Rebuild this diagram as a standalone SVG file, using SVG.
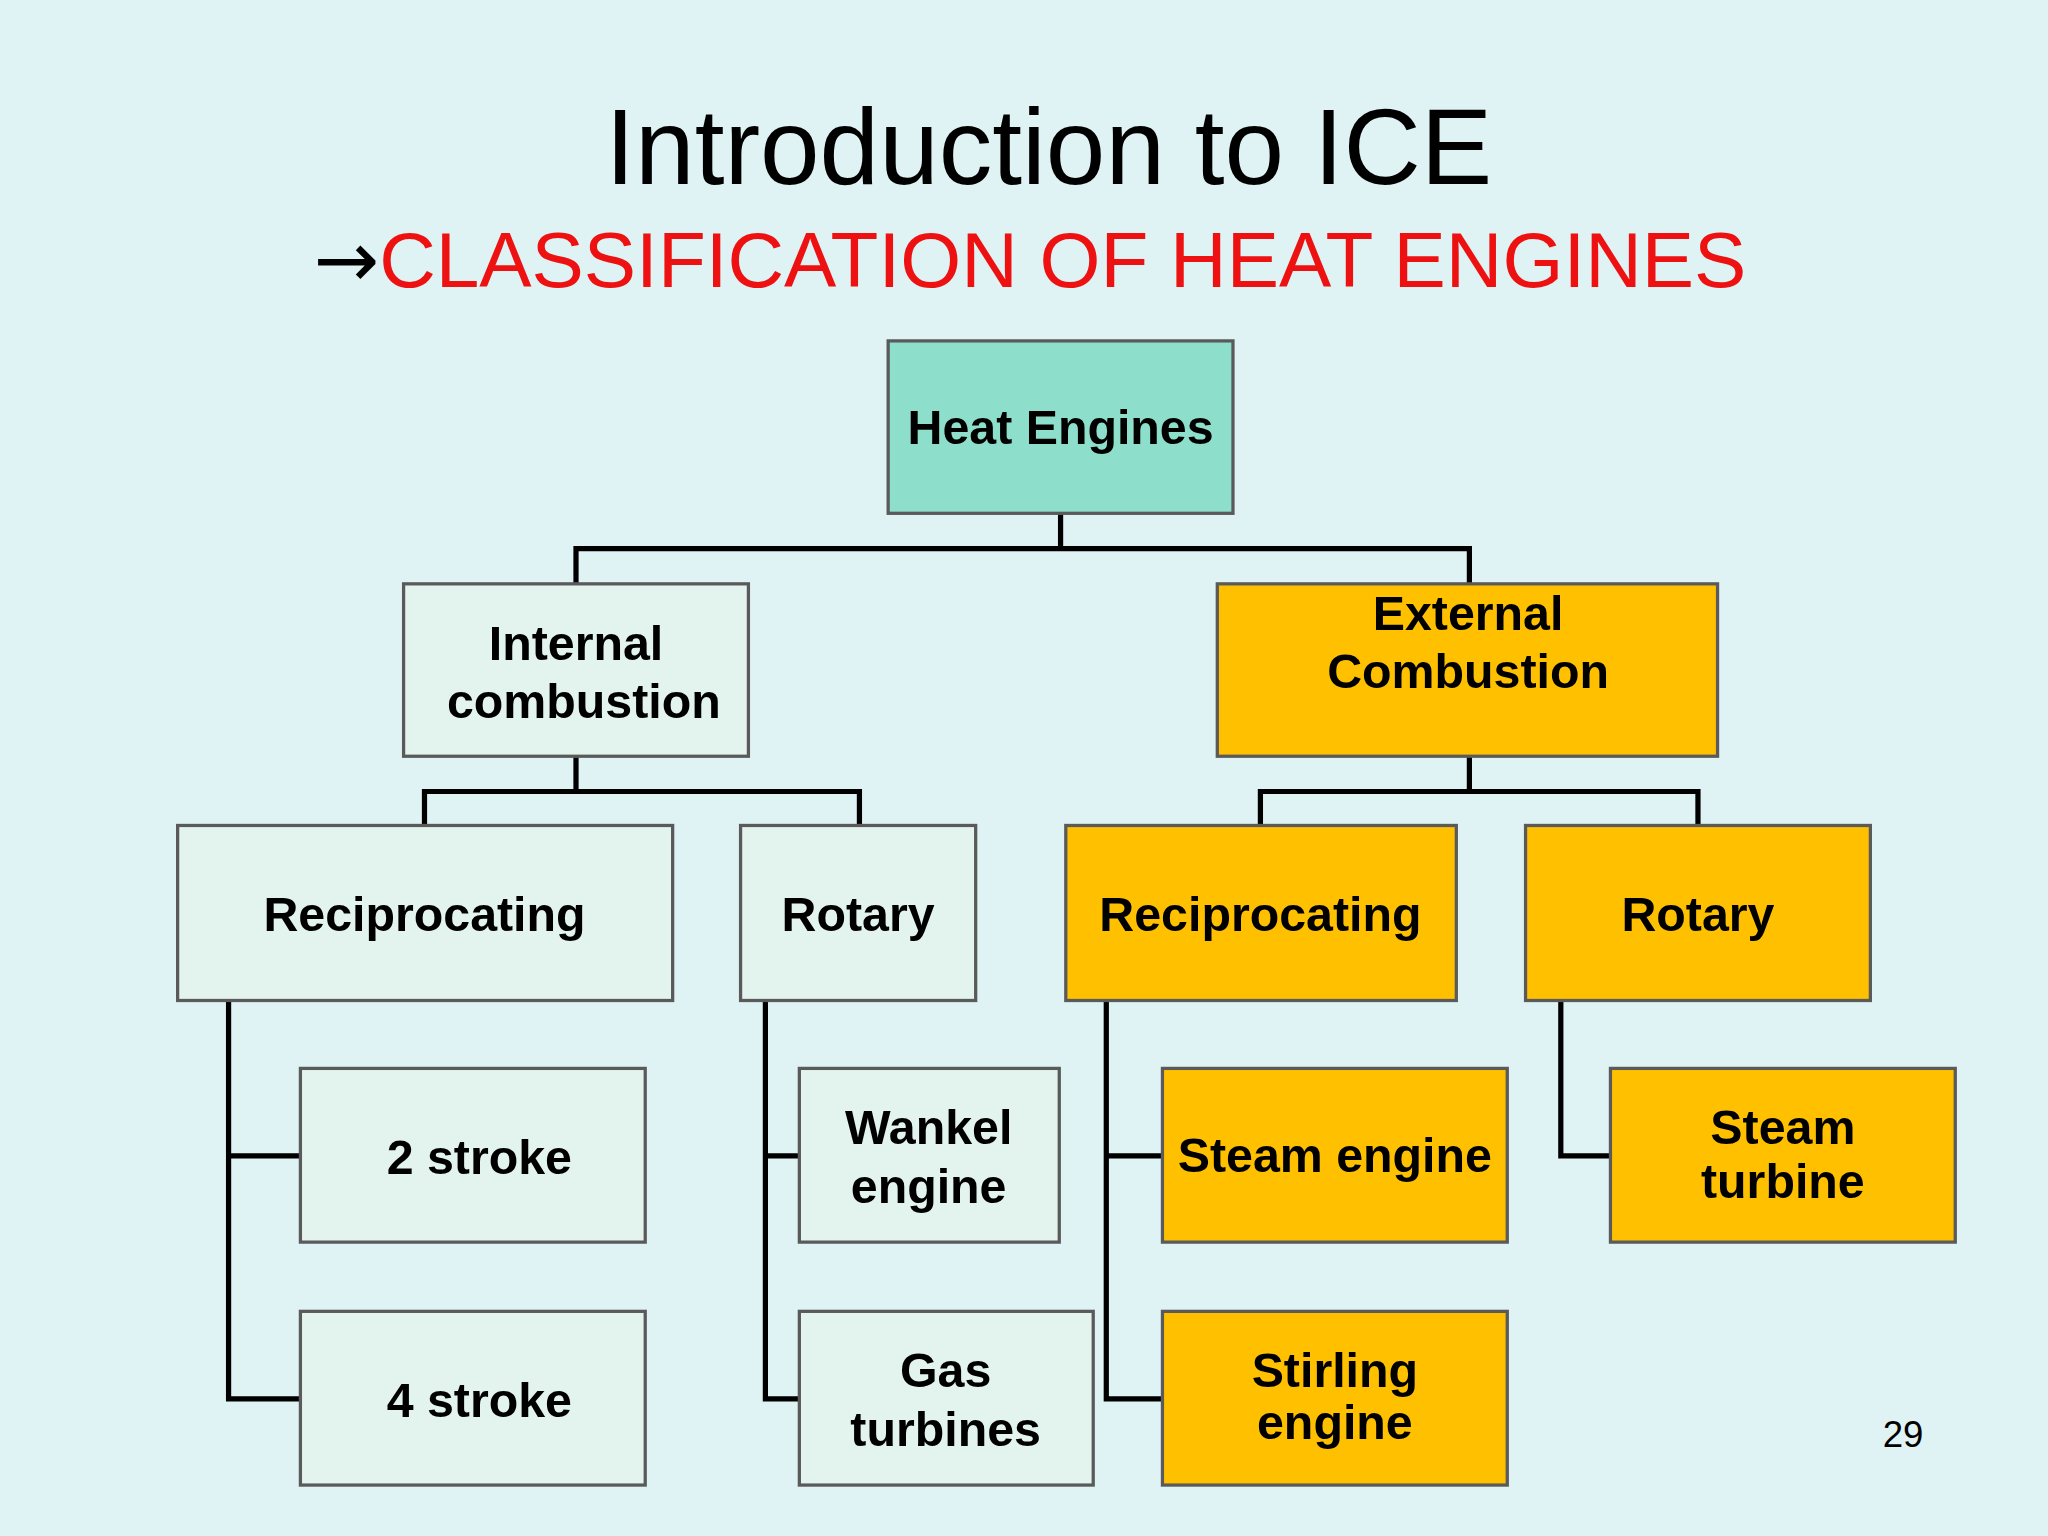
<svg xmlns="http://www.w3.org/2000/svg" width="2048" height="1536" viewBox="0 0 2048 1536">
<style>
.t{font-family:"Liberation Sans",Arial,sans-serif;font-weight:bold;font-size:37px;fill:#000;text-anchor:middle}
.l{fill:#e3f4ee;stroke:#5a5a5a;stroke-width:2.5}
.o{fill:#ffc000;stroke:#5a5a5a;stroke-width:2.5}
.h{fill:#8ddfcc;stroke:#5a5a5a;stroke-width:2.5}
.c{fill:none;stroke:#000;stroke-width:4}
</style>
<rect width="2048" height="1536" fill="#dff2f4"/>
<g transform="scale(1.306122)">
<text x="803" y="141" font-family="Liberation Sans,Arial,sans-serif" font-size="82" text-anchor="middle">Introduction to ICE</text>
<text x="240" y="220" font-family="DejaVu Sans,sans-serif" font-size="60">→<tspan font-family="Liberation Sans,Arial,sans-serif" fill="#ee1111">CLASSIFICATION OF HEAT ENGINES</tspan></text>
<g id="connectors">
<path class="c" d="M812 393V420M441 447V420H1125V447M441 579V606M325 632V606H658V632M1125 579V606M965 632V606H1300V632M175 766V1071H230M175 885H230M586 766V1071H612M586 885H612M847 766V1071H890M847 885H890M1195 766V885H1233"/>
</g>
<g id="heat"><rect class="h" x="680" y="261" width="264" height="132"/><text class="t" x="812" y="340">Heat Engines</text></g>
<g id="internal"><rect class="l" x="309" y="447" width="264" height="132"/><text class="t" x="441" y="505">Internal</text><text class="t" x="447" y="550">combustion</text></g>
<g id="external"><rect class="o" x="932" y="447" width="383" height="132"/><text class="t" x="1124" y="482">External</text><text class="t" x="1124" y="527">Combustion</text></g>
<g id="recip1"><rect class="l" x="136" y="632" width="379" height="134"/><text class="t" x="325" y="713">Reciprocating</text></g>
<g id="rotary1"><rect class="l" x="567" y="632" width="180" height="134"/><text class="t" x="657" y="713">Rotary</text></g>
<g id="recip2"><rect class="o" x="816" y="632" width="299" height="134"/><text class="t" x="965" y="713">Reciprocating</text></g>
<g id="rotary2"><rect class="o" x="1168" y="632" width="264" height="134"/><text class="t" x="1300" y="713">Rotary</text></g>
<g id="s2"><rect class="l" x="230" y="818" width="264" height="133"/><text class="t" x="367" y="899">2 stroke</text></g>
<g id="s4"><rect class="l" x="230" y="1004" width="264" height="133"/><text class="t" x="367" y="1085">4 stroke</text></g>
<g id="wankel"><rect class="l" x="612" y="818" width="199" height="133"/><text class="t" x="711" y="876">Wankel</text><text class="t" x="711" y="921">engine</text></g>
<g id="gas"><rect class="l" x="612" y="1004" width="225" height="133"/><text class="t" x="724" y="1062">Gas</text><text class="t" x="724" y="1107">turbines</text></g>
<g id="steamengine"><rect class="o" x="890" y="818" width="264" height="133"/><text class="t" x="1022" y="897">Steam engine</text></g>
<g id="stirling"><rect class="o" x="890" y="1004" width="264" height="133"/><text class="t" x="1022" y="1062">Stirling</text><text class="t" x="1022" y="1102">engine</text></g>
<g id="steamturbine"><rect class="o" x="1233" y="818" width="264" height="133"/><text class="t" x="1365" y="876">Steam</text><text class="t" x="1365" y="917">turbine</text></g>
<text x="1457" y="1108" font-family="Liberation Sans,Arial,sans-serif" font-size="28" text-anchor="middle">29</text>
</g>
</svg>
